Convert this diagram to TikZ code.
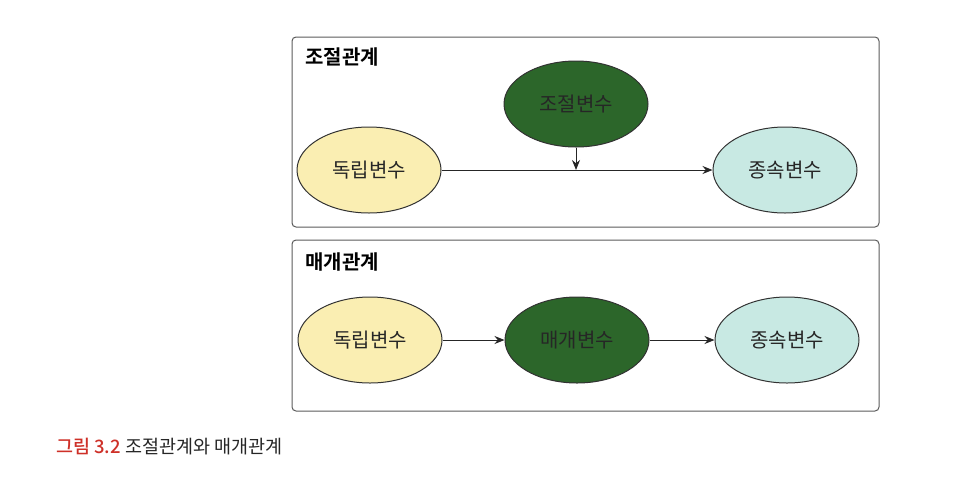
\documentclass[tikz,border=0pt]{standalone}
\usepackage{fontspec}
\setmainfont{Noto Sans CJK KR}
\newfontfamily\krb{Noto Sans CJK KR Bold}
\newfontfamily\krm{Noto Sans CJK KR Medium}
\usetikzlibrary{shapes.geometric,arrows.meta}
\definecolor{ylw}{RGB}{250,238,178}
\definecolor{dgreen}{RGB}{44,102,42}
\definecolor{cyanl}{RGB}{200,233,227}
\definecolor{edge}{RGB}{50,50,50}
\definecolor{boxc}{RGB}{90,90,90}
\definecolor{capred}{RGB}{206,48,40}
\tikzset{
  var/.style={ellipse, draw=edge, line width=1pt, minimum width=144pt, minimum height=86pt, inner sep=0pt, font=\fontsize{20}{24}\selectfont, text=black!85},
  panel/.style={draw=boxc, line width=1pt, rounded corners=4pt},
  ttl/.style={anchor=west, font=\krb\fontsize{20}{24}\selectfont, inner sep=0pt},
  conn/.style={line width=1pt, draw=black!85, -{Stealth[length=10pt,width=8pt]}}
}
\begin{document}
\begin{tikzpicture}[x=1pt,y=-1pt]
\useasboundingbox (0,0) rectangle (968,480);
% top panel
\draw[panel] (292,37) rectangle (879,227);
\node[ttl] (t1) at (305,57) {조절관계};
\node[var, fill=ylw] (iv1) at (369,170) {독립변수};
\node[var, fill=dgreen] (mod) at (576,104) {조절변수};
\node[var, fill=cyanl] (dv1) at (785,170) {종속변수};
\draw[conn] (iv1) -- (dv1);
\coordinate (hit) at (576,170);
\draw[conn] (mod) -- (hit);
% bottom panel
\draw[panel] (292,240) rectangle (879,411);
\node[ttl] (t2) at (305,262) {매개관계};
\node[var, fill=ylw] (iv2) at (370,340) {독립변수};
\node[var, fill=dgreen] (med) at (577,340) {매개변수};
\node[var, fill=cyanl] (dv2) at (787,340) {종속변수};
\draw[conn] (iv2) -- (med);
\draw[conn] (med) -- (dv2);
% caption
\node[anchor=west, inner sep=0pt, font=\fontsize{18.5}{22}\selectfont, text=black!85] (cap) at (56,447) {{\krm\color{capred}그림 3.2} 조절관계와 매개관계};
\end{tikzpicture}
\end{document}
